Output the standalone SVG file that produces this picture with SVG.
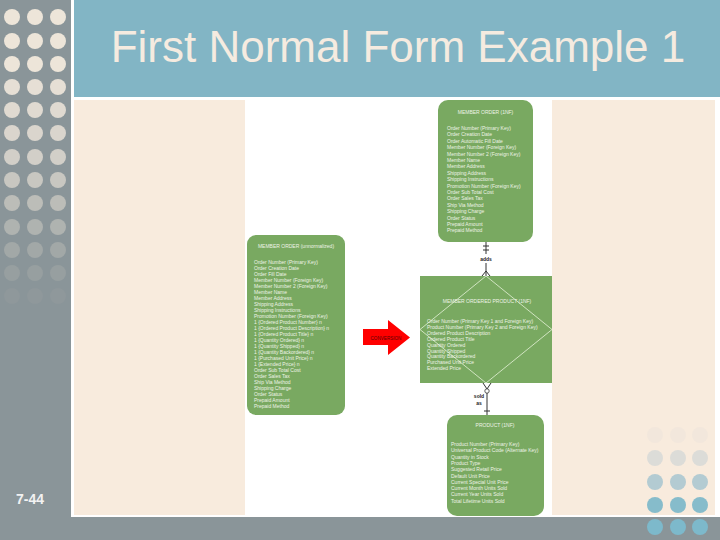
<svg xmlns="http://www.w3.org/2000/svg" width="720" height="540" viewBox="0 0 720 540">
<style>
.t{font-family:"Liberation Sans",Arial,sans-serif;font-size:5px;fill:#eef3e6}
.h{font-family:"Liberation Sans",Arial,sans-serif;font-size:5px;fill:#eef3e6;text-anchor:middle}
.box{fill:#79a961}
.ln{stroke:#333;stroke-width:1;fill:none}
.lbl{font-family:"Liberation Sans",Arial,sans-serif;font-size:5px;font-weight:bold;fill:#222}
</style>
<rect x="0" y="0" width="720" height="540" fill="#ffffff"/>
<rect x="0" y="0" width="71" height="540" fill="#8a9599"/>
<rect x="74" y="0" width="646" height="97" fill="#82b5c5"/>
<rect x="74" y="100" width="641" height="415" fill="#f8ebdd"/>
<rect x="0" y="517" width="720" height="23" fill="#8a9599"/>
<rect x="245" y="100" width="307" height="415" fill="#ffffff"/>
<g id="dots-left">
<g fill="#ede5d9"><circle cx="12" cy="17" r="8"/><circle cx="35" cy="17" r="8"/><circle cx="58" cy="17" r="8"/>
<circle cx="12" cy="41" r="8"/><circle cx="35" cy="41" r="8"/><circle cx="58" cy="41" r="8"/>
<circle cx="12" cy="64" r="8"/><circle cx="35" cy="64" r="8"/><circle cx="58" cy="64" r="8"/></g>
<g fill="#e6dfd5"><circle cx="12" cy="87" r="8"/><circle cx="35" cy="87" r="8"/><circle cx="58" cy="87" r="8"/></g>
<g fill="#e0dad1"><circle cx="12" cy="110" r="8"/><circle cx="35" cy="110" r="8"/><circle cx="58" cy="110" r="8"/></g>
<g fill="#dad5cd"><circle cx="12" cy="133" r="8"/><circle cx="35" cy="133" r="8"/><circle cx="58" cy="133" r="8"/></g>
<g fill="#d2cfc8"><circle cx="12" cy="157" r="8"/><circle cx="35" cy="157" r="8"/><circle cx="58" cy="157" r="8"/></g>
<g fill="#c8c7c1"><circle cx="12" cy="180" r="8"/><circle cx="35" cy="180" r="8"/><circle cx="58" cy="180" r="8"/></g>
<g fill="#bcbdb8"><circle cx="12" cy="203" r="8"/><circle cx="35" cy="203" r="8"/><circle cx="58" cy="203" r="8"/></g>
<g fill="#afb3b0"><circle cx="12" cy="227" r="8"/><circle cx="35" cy="227" r="8"/><circle cx="58" cy="227" r="8"/></g>
<g fill="#a2a8a7"><circle cx="12" cy="250" r="8"/><circle cx="35" cy="250" r="8"/><circle cx="58" cy="250" r="8"/></g>
<g fill="#979fa0"><circle cx="12" cy="273" r="8"/><circle cx="35" cy="273" r="8"/><circle cx="58" cy="273" r="8"/></g>
<g fill="#8f989b"><circle cx="12" cy="296" r="8"/><circle cx="35" cy="296" r="8"/><circle cx="58" cy="296" r="8"/></g>
</g>
<g id="dots-right">
<g fill="#f2e7dc"><circle cx="655" cy="435" r="8"/><circle cx="678" cy="435" r="8"/><circle cx="700" cy="435" r="8"/></g>
<g fill="#dcdcd8"><circle cx="655" cy="458" r="8"/><circle cx="678" cy="458" r="8"/><circle cx="700" cy="458" r="8"/></g>
<g fill="#b3cbd2"><circle cx="655" cy="482" r="8"/><circle cx="678" cy="482" r="8"/><circle cx="700" cy="482" r="8"/></g>
<g fill="#86bccb"><circle cx="655" cy="505" r="8"/><circle cx="678" cy="505" r="8"/><circle cx="700" cy="505" r="8"/></g>
<g fill="#7db9cb"><circle cx="655" cy="527" r="8"/><circle cx="678" cy="527" r="8"/><circle cx="700" cy="527" r="8"/></g>
</g>
<text x="398" y="62" font-family="Liberation Sans, Arial, sans-serif" font-size="44" fill="#f5ebe0" text-anchor="middle">First Normal Form Example 1</text>
<text x="16" y="504" font-family="Liberation Sans, Arial, sans-serif" font-size="14" font-weight="bold" fill="#f2f2f2">7-44</text>

<g id="connectors">
<line class="ln" x1="486" y1="242" x2="486" y2="254"/>
<line class="ln" x1="486" y1="263" x2="486" y2="276"/>
<line class="ln" x1="483" y1="246" x2="489" y2="246"/>
<line class="ln" x1="483" y1="250" x2="489" y2="250"/>
<path class="ln" d="M482,276 L486,271 L490,276"/>
<text class="lbl" x="486" y="261" text-anchor="middle">adds</text>
<path class="ln" d="M483,383 L487,389 L491,383"/>
<circle cx="487" cy="391" r="2.2" fill="#ffffff" stroke="#333" stroke-width="0.8"/>
<line class="ln" x1="487" y1="393" x2="487" y2="415"/>
<line class="ln" x1="484" y1="411" x2="490" y2="411"/>
<text class="lbl" x="479" y="398" text-anchor="middle">sold</text>
<text class="lbl" x="479" y="405" text-anchor="middle">as</text>
</g>

<g id="node-member-order-unnormalized">
<rect class="box" x="247" y="235" width="98" height="180" rx="9"/>
<text class="h" x="296" y="248">MEMBER ORDER (unnormalized)</text>
<text class="t" x="254" y="264"><tspan x="254">Order Number (Primary Key)</tspan><tspan x="254" dy="6">Order Creation Date</tspan><tspan x="254" dy="6">Order Fill Date</tspan><tspan x="254" dy="6">Member Number (Foreign Key)</tspan><tspan x="254" dy="6">Member Number 2 (Foreign Key)</tspan><tspan x="254" dy="6">Member Name</tspan><tspan x="254" dy="6">Member Address</tspan><tspan x="254" dy="6">Shipping Address</tspan><tspan x="254" dy="6">Shipping Instructions</tspan><tspan x="254" dy="6">Promotion Number (Foreign Key)</tspan><tspan x="254" dy="6">1 {Ordered Product Number} n</tspan><tspan x="254" dy="6">1 {Ordered Product Description} n</tspan><tspan x="254" dy="6">1 {Ordered Product Title} n</tspan><tspan x="254" dy="6">1 {Quantity Ordered} n</tspan><tspan x="254" dy="6">1 {Quantity Shipped} n</tspan><tspan x="254" dy="6">1 {Quantity Backordered} n</tspan><tspan x="254" dy="6">1 {Purchased Unit Price} n</tspan><tspan x="254" dy="6">1 {Extended Price} n</tspan><tspan x="254" dy="6">Order Sub Total Cost</tspan><tspan x="254" dy="6">Order Sales Tax</tspan><tspan x="254" dy="6">Ship Via Method</tspan><tspan x="254" dy="6">Shipping Charge</tspan><tspan x="254" dy="6">Order Status</tspan><tspan x="254" dy="6">Prepaid Amount</tspan><tspan x="254" dy="6">Prepaid Method</tspan></text>
</g>

<g id="node-conversion">
<path d="M363,329 L388,329 L388,320 L410,337.5 L388,355 L388,345 L363,345 Z" fill="#ff0000"/>
<text x="386" y="339.5" font-family="Liberation Sans, Arial, sans-serif" font-size="4.6" fill="#5a0000" text-anchor="middle">CONVERSION</text>
</g>

<g id="node-member-order-1nf">
<rect class="box" x="438" y="100" width="95" height="142" rx="10"/>
<text class="h" x="485.5" y="114">MEMBER ORDER (1NF)</text>
<text class="t" x="447" y="130"><tspan x="447">Order Number (Primary Key)</tspan><tspan x="447" dy="6.4">Order Creation Date</tspan><tspan x="447" dy="6.4">Order Automatic Fill Date</tspan><tspan x="447" dy="6.4">Member Number (Foreign Key)</tspan><tspan x="447" dy="6.4">Member Number 2 (Foreign Key)</tspan><tspan x="447" dy="6.4">Member Name</tspan><tspan x="447" dy="6.4">Member Address</tspan><tspan x="447" dy="6.4">Shipping Address</tspan><tspan x="447" dy="6.4">Shipping Instructions</tspan><tspan x="447" dy="6.4">Promotion Number (Foreign Key)</tspan><tspan x="447" dy="6.4">Order Sub Total Cost</tspan><tspan x="447" dy="6.4">Order Sales Tax</tspan><tspan x="447" dy="6.4">Ship Via Method</tspan><tspan x="447" dy="6.4">Shipping Charge</tspan><tspan x="447" dy="6.4">Order Status</tspan><tspan x="447" dy="6.4">Prepaid Amount</tspan><tspan x="447" dy="6.4">Prepaid Method</tspan></text>
</g>

<g id="node-member-ordered-product">
<rect class="box" x="420" y="276" width="132" height="107"/>
<path d="M486,276 L552,329.5 L486,383 L420,329.5 Z" fill="none" stroke="#e6f2d8" stroke-width="0.8"/>
<text class="h" x="487" y="303">MEMBER ORDERED PRODUCT (1NF)</text>
<text class="t" x="427" y="323"><tspan x="427">Order Number (Primary Key 1 and Foreign Key)</tspan><tspan x="427" dy="5.9">Product Number (Primary Key 2 and Foreign Key)</tspan><tspan x="427" dy="5.9">Ordered Product Description</tspan><tspan x="427" dy="5.9">Ordered Product Title</tspan><tspan x="427" dy="5.9">Quantity Ordered</tspan><tspan x="427" dy="5.9">Quantity Shipped</tspan><tspan x="427" dy="5.9">Quantity Backordered</tspan><tspan x="427" dy="5.9">Purchased Unit Price</tspan><tspan x="427" dy="5.9">Extended Price</tspan></text>
</g>

<g id="node-product">
<rect class="box" x="447" y="415" width="97" height="101" rx="10"/>
<text class="h" x="495" y="427">PRODUCT (1NF)</text>
<text class="t" x="451" y="446"><tspan x="451">Product Number (Primary Key)</tspan><tspan x="451" dy="6.3">Universal Product Code (Alternate Key)</tspan><tspan x="451" dy="6.3">Quantity in Stock</tspan><tspan x="451" dy="6.3">Product Type</tspan><tspan x="451" dy="6.3">Suggested Retail Price</tspan><tspan x="451" dy="6.3">Default Unit Price</tspan><tspan x="451" dy="6.3">Current Special Unit Price</tspan><tspan x="451" dy="6.3">Current Month Units Sold</tspan><tspan x="451" dy="6.3">Current Year Units Sold</tspan><tspan x="451" dy="6.3">Total Lifetime Units Sold</tspan></text>
</g>
</svg>
